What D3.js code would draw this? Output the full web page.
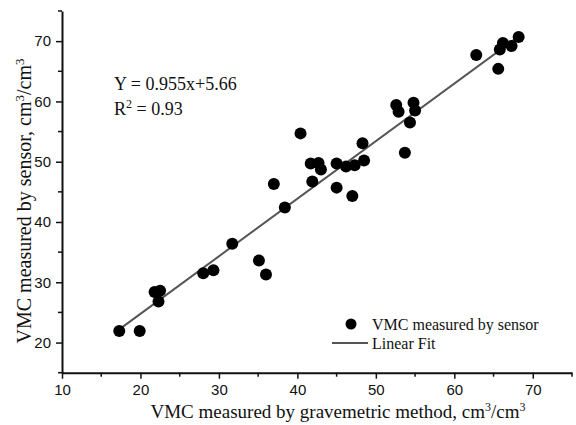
<!DOCTYPE html>
<html>
<head>
<meta charset="utf-8">
<script src="https://cdn.jsdelivr.net/npm/d3@7"></script>
<style>
  body { margin: 0; background: #fff; }
  .tick text { font-family: "Liberation Sans", Arial, sans-serif; font-size: 15px; fill: #111; }
  .serif { font-family: "Liberation Serif", "Times New Roman", serif; fill: #111; }
</style>
</head>
<body>
<div id="chart"></div>
<script>
// VMC measured by gravimetric method (x) vs. by sensor (y), cm3/cm3
const gravimetric = [17.3, 19.9, 21.8, 22.5, 22.3, 28.0, 29.3, 31.7, 35.1, 36.0,
    37.0, 38.4, 40.4, 41.7, 42.7, 43.0, 41.9, 45.0, 45.0, 46.2,
    47.3, 48.5, 48.3, 47.0, 52.6, 52.9, 54.8, 55.0, 54.35, 53.7,
    62.8, 65.6, 65.8, 66.2, 67.3, 68.2];
const sensor = [21.9, 21.9, 28.4, 28.6, 26.8, 31.5, 32.0, 36.4, 33.6, 31.3,
    46.3, 42.4, 54.7, 49.7, 49.8, 48.7, 46.7, 49.7, 45.7, 49.2,
    49.4, 50.2, 53.05, 44.3, 59.4, 58.3, 59.8, 58.5, 56.5, 51.5,
    67.7, 65.4, 68.6, 69.7, 69.2, 70.7];

const fitSlope = 0.955;
const fitIntercept = 5.66;
const fitRange = [17.3, 68.2];

const xTicks = [10, 20, 30, 40, 50, 60, 70];
const yTicks = [20, 30, 40, 50, 60, 70];

const width = 576, height = 425;
const svg = d3.select('#chart').append('svg')
    .attr('width', width)
    .attr('height', height);

const x = d3.scaleLinear().domain([10, 75]).range([62, 572]);
const y = d3.scaleLinear().domain([15, 75]).range([372.7, 11]);

// Axes: major ticks plus minor ticks every 5
const xAxis = svg.append('g')
    .attr('transform', `translate(0,${y(15)})`)
    .call(d3.axisBottom(x).tickValues(xTicks).tickSize(6).tickPadding(4).tickSizeOuter(0));
xAxis.selectAll('.tick text').attr('dy', '0.85em');
xAxis.selectAll('.minor')
    .data(d3.range(15, 76, 10))
    .enter().append('line')
    .attr('x1', d => x(d)).attr('x2', d => x(d))
    .attr('y1', 0).attr('y2', 4)
    .attr('stroke', '#111').attr('stroke-width', 1.5);

const yAxis = svg.append('g')
    .attr('transform', `translate(${x(10)},0)`)
    .call(d3.axisLeft(y).tickValues(yTicks).tickSize(6).tickPadding(5).tickSizeOuter(0));
yAxis.selectAll('.minor')
    .data(d3.range(15, 76, 10))
    .enter().append('line')
    .attr('x1', 0).attr('x2', -4)
    .attr('y1', d => y(d)).attr('y2', d => y(d))
    .attr('stroke', '#111').attr('stroke-width', 1.5);

svg.selectAll('.domain').attr('stroke', '#111').attr('stroke-width', 2);
svg.selectAll('.tick line').attr('stroke', '#111').attr('stroke-width', 1.5);

// Linear fit line
svg.append('line')
    .attr('x1', x(fitRange[0]))
    .attr('y1', y(fitSlope * fitRange[0] + fitIntercept))
    .attr('x2', x(fitRange[1]))
    .attr('y2', y(fitSlope * fitRange[1] + fitIntercept))
    .attr('stroke', '#555')
    .attr('stroke-width', 2);

// Points
svg.selectAll('.pt')
    .data(gravimetric.map((g, i) => ({ g, s: sensor[i] })))
    .enter().append('circle')
    .attr('class', 'pt')
    .attr('cx', d => x(d.g))
    .attr('cy', d => y(d.s))
    .attr('r', 6)
    .attr('fill', '#000');

// Equation text
svg.append('text')
    .attr('class', 'serif')
    .attr('x', 114).attr('y', 90)
    .style('font-size', '18px')
    .text('Y = 0.955x+5.66');
const r2 = svg.append('text')
    .attr('class', 'serif')
    .attr('x', 114).attr('y', 115)
    .style('font-size', '18px');
r2.append('tspan').text('R');
r2.append('tspan').attr('dy', -7).style('font-size', '12px').text('2');
r2.append('tspan').attr('dy', 7).text(' = 0.93');

// Legend
svg.append('circle')
    .attr('cx', 351).attr('cy', 324)
    .attr('r', 5.5).attr('fill', '#000');
svg.append('text')
    .attr('class', 'serif')
    .attr('x', 372).attr('y', 330)
    .style('font-size', '16px')
    .text('VMC measured by sensor');
svg.append('line')
    .attr('x1', 332).attr('x2', 368)
    .attr('y1', 343).attr('y2', 343)
    .attr('stroke', '#555').attr('stroke-width', 2);
svg.append('text')
    .attr('class', 'serif')
    .attr('x', 372).attr('y', 349)
    .style('font-size', '16px')
    .text('Linear Fit');

// Axis titles
const xt = svg.append('text')
    .attr('class', 'serif')
    .attr('x', 338).attr('y', 418)
    .attr('text-anchor', 'middle')
    .style('font-size', '19px');
xt.append('tspan').text('VMC measured by gravemetric method, cm');
xt.append('tspan').attr('dy', -7).style('font-size', '12px').text('3');
xt.append('tspan').attr('dy', 7).text('/cm');
xt.append('tspan').attr('dy', -7).style('font-size', '12px').text('3');

const yt = svg.append('text')
    .attr('class', 'serif')
    .attr('transform', 'translate(31,201) rotate(-90)')
    .attr('text-anchor', 'middle')
    .style('font-size', '20px');
yt.append('tspan').text('VMC measured by sensor, cm');
yt.append('tspan').attr('dy', -7).style('font-size', '13px').text('3');
yt.append('tspan').attr('dy', 7).text('/cm');
yt.append('tspan').attr('dy', -7).style('font-size', '13px').text('3');
</script>
</body>
</html>
